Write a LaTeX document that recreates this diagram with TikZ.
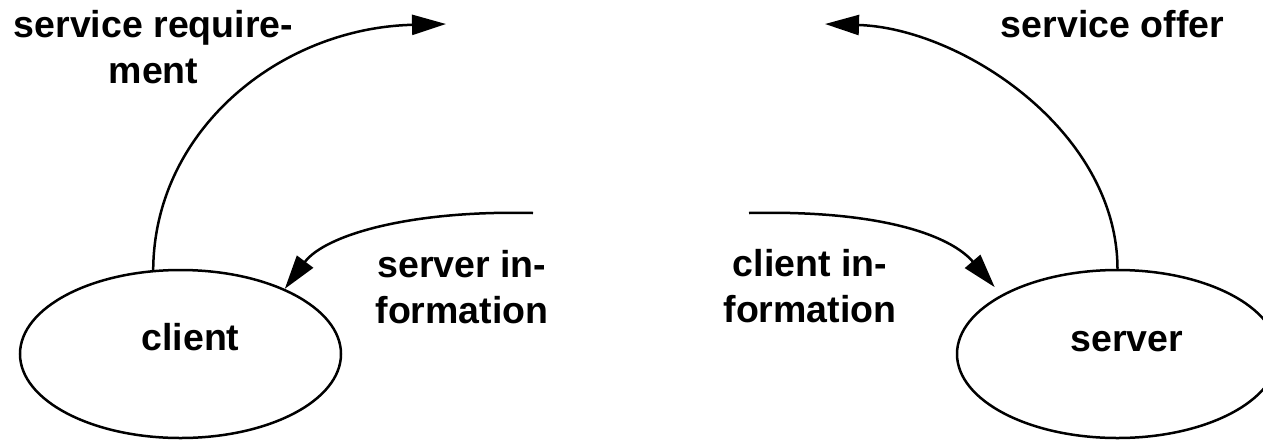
\documentclass[tikz,border=0pt]{standalone}
\usepackage{fontspec}
\setmainfont{Liberation Sans}
\usetikzlibrary{arrows.meta,shapes.geometric}
\tikzset{
  bub/.style={ellipse, draw, line width=1.25pt, minimum width=160.5pt, minimum height=84pt, inner sep=0pt},
  lbl/.style={font=\bfseries\fontsize{18.75}{23}\selectfont, align=center, inner sep=0pt, anchor=base},
  flow/.style={line width=1.25pt, -{Triangle[length=17pt,width=10pt]}},
}
\begin{document}
\begin{tikzpicture}[x=0.5pt,y=-0.5pt]
\useasboundingbox (0,0) rectangle (1263,440);
\node[bub] (client) at (180.5,354) {};
\node[bub] (server) at (1117.5,354) {};
\node[lbl] (clientlbl) at (190.5,350) {client};
\node[lbl] (serverlbl) at (1127,351) {server};
\node[lbl] (reqlbl) at (153.5,83) {service require-\\ment};
\node[lbl] (offlbl) at (1112.5,37) {service offer};
\node[lbl] (silbl) at (462,323) {server in-\\formation};
\node[lbl] (cilbl) at (810,322) {client in-\\formation};
\coordinate (reqtip) at (446,24);
\coordinate (offtip) at (825,24);
\coordinate (sistart) at (533,213);
\coordinate (cistart) at (749,213);
\draw[flow] (client.108) .. controls (154,130) and (280,28) .. (reqtip);
\draw[flow] (server.90) .. controls (1117,130) and (960,28) .. (offtip);
\draw[flow] (sistart) .. controls (410,210) and (325,235) .. (client.32);
\draw[flow, shorten >=5pt] (cistart) .. controls (880,210) and (950,235) .. (server.153);
\end{tikzpicture}
\end{document}
